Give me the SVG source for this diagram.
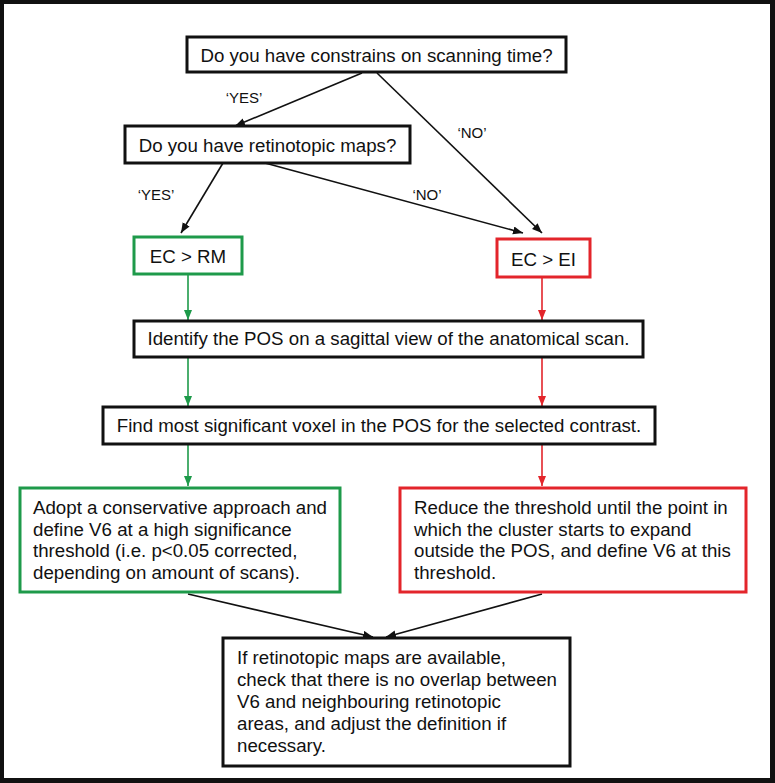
<svg xmlns="http://www.w3.org/2000/svg" width="775" height="783" viewBox="0 0 775 783">
<defs>
<style>
.t{font-family:"Liberation Sans",Arial,sans-serif;font-size:18.7px;fill:#111}
.c{text-anchor:middle}
.l{font-family:"Liberation Sans",Arial,sans-serif;font-size:15px;fill:#111;text-anchor:middle}
.bk{fill:#fff;stroke:#111;stroke-width:3}
.gr{fill:#fff;stroke:#1e9a4a;stroke-width:3}
.rd{fill:#fff;stroke:#e3252b;stroke-width:3}
.ak{stroke:#111;stroke-width:1.6;fill:none}
.ag{stroke:#1e9a4a;stroke-width:1.6;fill:none}
.ar{stroke:#e3252b;stroke-width:1.6;fill:none}
</style>
<marker id="mk" markerUnits="userSpaceOnUse" markerWidth="12" markerHeight="10" refX="10" refY="4" orient="auto"><path d="M0,0 L10,4 L0,8 Z" fill="#111"/></marker>
<marker id="mg" markerUnits="userSpaceOnUse" markerWidth="12" markerHeight="10" refX="10" refY="4" orient="auto"><path d="M0,0 L10,4 L0,8 Z" fill="#1e9a4a"/></marker>
<marker id="mr" markerUnits="userSpaceOnUse" markerWidth="12" markerHeight="10" refX="10" refY="4" orient="auto"><path d="M0,0 L10,4 L0,8 Z" fill="#e3252b"/></marker>
</defs>
<rect x="0" y="0" width="775" height="783" fill="#111"/>
<rect x="4" y="4" width="766" height="774" fill="#fff"/>
<g id="connectors">
<line class="ak" x1="362" y1="73" x2="235" y2="126" marker-end="url(#mk)"/>
<line class="ak" x1="377" y1="73" x2="542" y2="233" marker-end="url(#mk)"/>
<line class="ak" x1="223" y1="163" x2="181" y2="233" marker-end="url(#mk)"/>
<line class="ak" x1="265" y1="163" x2="523" y2="233" marker-end="url(#mk)"/>
<line class="ag" x1="188" y1="275" x2="188" y2="320" marker-end="url(#mg)"/>
<line class="ar" x1="542" y1="278" x2="542" y2="320" marker-end="url(#mr)"/>
<line class="ag" x1="188" y1="358" x2="188" y2="406" marker-end="url(#mg)"/>
<line class="ar" x1="542" y1="358" x2="542" y2="406" marker-end="url(#mr)"/>
<line class="ag" x1="188" y1="445" x2="188" y2="486" marker-end="url(#mg)"/>
<line class="ar" x1="542" y1="445" x2="542" y2="486" marker-end="url(#mr)"/>
<line class="ak" x1="188" y1="594" x2="373" y2="637" marker-end="url(#mk)"/>
<line class="ak" x1="542" y1="594" x2="386" y2="637" marker-end="url(#mk)"/>
<text class="l" x="244" y="103">&#8216;YES&#8217;</text>
<text class="l" x="472" y="138">&#8216;NO&#8217;</text>
<text class="l" x="156" y="200">&#8216;YES&#8217;</text>
<text class="l" x="427" y="200">&#8216;NO&#8217;</text>
</g>
<g id="q1"><rect class="bk" x="187" y="37" width="379" height="35"/><text class="t c" x="376.5" y="62">Do you have constrains on scanning time?</text></g>
<g id="q2"><rect class="bk" x="125" y="126" width="285" height="37"/><text class="t c" x="267.5" y="152">Do you have retinotopic maps?</text></g>
<g id="ecrm"><rect class="gr" x="134" y="237" width="108" height="37"/><text class="t c" x="188" y="263">EC &gt; RM</text></g>
<g id="ecei"><rect class="rd" x="497" y="239" width="93" height="38"/><text class="t c" x="543.5" y="266">EC &gt; EI</text></g>
<g id="identify"><rect class="bk" x="134" y="321" width="509" height="36"/><text class="t c" x="388.5" y="345">Identify the POS on a sagittal view of the anatomical scan.</text></g>
<g id="find"><rect class="bk" x="103" y="407" width="552" height="37"/><text class="t c" x="379" y="432">Find most significant voxel in the POS for the selected contrast.</text></g>
<g id="conservative"><rect class="gr" x="20" y="488" width="320" height="104"/>
<text class="t" x="33" y="514">Adopt a conservative approach and</text>
<text class="t" x="33" y="535.5">define V6 at a high significance</text>
<text class="t" x="33" y="557">threshold (i.e. p&lt;0.05 corrected,</text>
<text class="t" x="33" y="578.5">depending on amount of scans).</text></g>
<g id="reduce"><rect class="rd" x="400" y="488" width="346" height="104"/>
<text class="t" x="414" y="514">Reduce the threshold until the point in</text>
<text class="t" x="414" y="535.5">which the cluster starts to expand</text>
<text class="t" x="414" y="557">outside the POS, and define V6 at this</text>
<text class="t" x="414" y="578.5">threshold.</text></g>
<g id="check"><rect class="bk" x="223" y="638" width="347" height="128"/>
<text class="t" x="237" y="664">If retinotopic maps are available,</text>
<text class="t" x="237" y="686">check that there is no overlap between</text>
<text class="t" x="237" y="708">V6 and neighbouring retinotopic</text>
<text class="t" x="237" y="730">areas, and adjust the definition if</text>
<text class="t" x="237" y="752">necessary.</text></g>
</svg>
